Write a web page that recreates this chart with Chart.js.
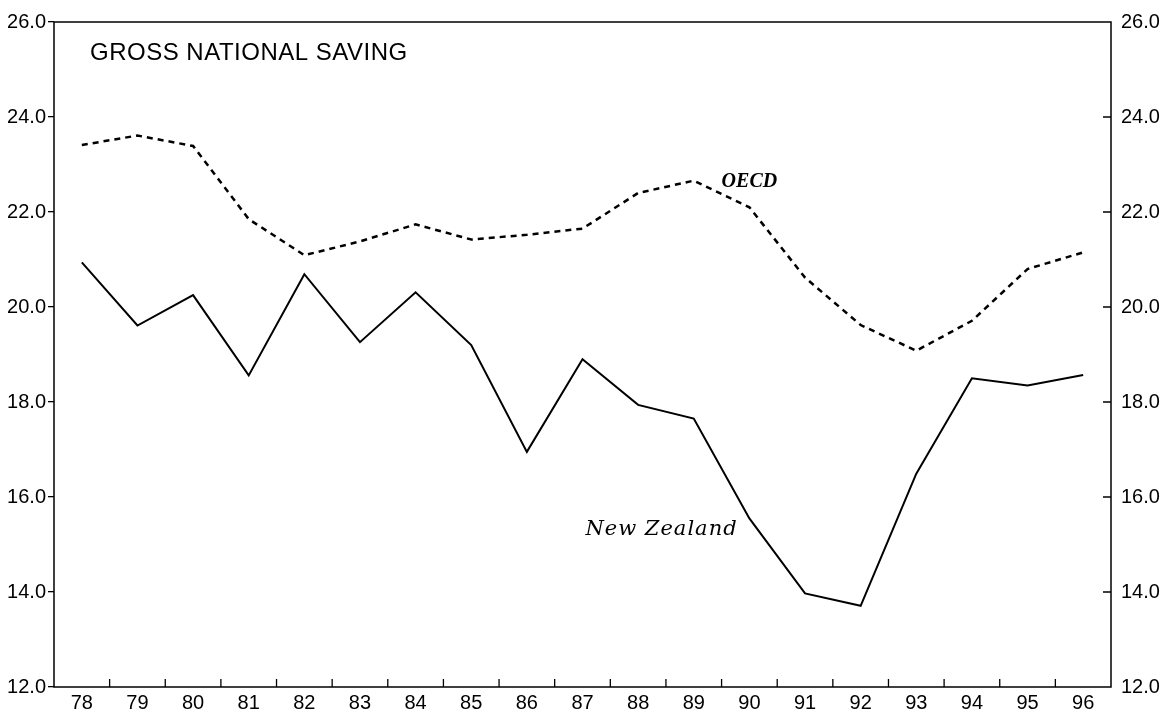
<!DOCTYPE html>
<html>
<head>
<meta charset="utf-8">
<script src="https://cdn.jsdelivr.net/npm/chart.js@4/dist/chart.umd.min.js"></script>
<style>
    html, body { margin: 0; padding: 0; background: #fff; }
    #chart { display: block; }
</style>
</head>
<body>
<canvas id="chart" width="1167" height="721"></canvas>
<script>
// years on the x axis
const years = ['78', '79', '80', '81', '82', '83', '84', '85', '86', '87',
               '88', '89', '90', '91', '92', '93', '94', '95', '96']

// gross national saving, per cent of GDP
const nzSaving = [20.94, 19.61, 20.25, 18.56, 20.69, 19.26, 20.31, 19.20, 16.95, 18.90,
                  17.94, 17.65, 15.55, 13.97, 13.71, 16.49, 18.50, 18.35, 18.57]
const oecdSaving = [23.41, 23.61, 23.39, 21.85, 21.09, 21.38, 21.74, 21.42, 21.52, 21.65,
                    22.40, 22.66, 22.10, 20.62, 19.62, 19.08, 19.71, 20.80, 21.15]

const yMin = 12
const yMax = 26
const yStep = 2

const labelFont = {family: 'Liberation Sans', size: 20}

// frame, inward tick marks, title and the two line labels
const decorations = {
    id: 'decorations',
    afterDraw(chart){
        let ctx = chart.ctx
        let area = chart.chartArea
        let x = chart.scales.x
        let y2 = chart.scales.y2
        let y = chart.scales.y

        ctx.save()
        ctx.strokeStyle = '#000'
        ctx.lineWidth = 1.5
        ctx.strokeRect(area.left, area.top, area.right - area.left, area.bottom - area.top)

        // ticks between the years, pointing up
        ctx.lineWidth = 1.3
        ctx.beginPath()
        for(let i = 1; i < years.length; i++){
            let px = (x.getPixelForTick(i - 1) + x.getPixelForTick(i)) / 2
            ctx.moveTo(px, area.bottom)
            ctx.lineTo(px, area.bottom - 8)
        }
        // right axis ticks, pointing in
        for(let v = yMin + yStep; v < yMax; v += yStep){
            let py = y2.getPixelForValue(v)
            ctx.moveTo(area.right, py)
            ctx.lineTo(area.right - 8, py)
        }
        ctx.stroke()

        ctx.fillStyle = '#000'
        ctx.textBaseline = 'middle'
        ctx.textAlign = 'left'
        ctx.font = '24px "Liberation Sans"'
        ctx.letterSpacing = '0.5px'
        ctx.fillText('GROSS NATIONAL SAVING', area.left + 36, area.top + 31)
        ctx.letterSpacing = '0px'

        ctx.textAlign = 'center'
        ctx.font = 'italic bold 20px "Liberation Serif"'
        ctx.fillText('OECD', x.getPixelForValue(12), y.getPixelForValue(22.63))
        ctx.font = 'italic 21px "DejaVu Serif"'
        ctx.letterSpacing = '1px'
        ctx.fillText('New Zealand', x.getPixelForValue(10.42), y.getPixelForValue(15.31))
        ctx.restore()
    }
}

let ctx = document.getElementById('chart').getContext('2d')
let chart = new Chart(ctx, {
    type: 'line',
    data: {
        labels: years,
        datasets: [{
            label: 'New Zealand',
            data: nzSaving,
            borderColor: '#000',
            borderWidth: 2,
            yAxisID: 'y'
        }, {
            label: 'OECD',
            data: oecdSaving,
            borderColor: '#000',
            borderWidth: 2.5,
            borderDash: [6, 5],
            yAxisID: 'y'
        }]
    },
    plugins: [decorations],
    options: {
        responsive: false,
        animation: false,
        layout: {padding: {top: 10, left: 0, right: 0, bottom: 0}},
        elements: {
            point: {radius: 0},
            line: {tension: 0, fill: false}
        },
        plugins: {
            legend: {display: false},
            tooltip: {enabled: false}
        },
        scales: {
            x: {
                offset: true,
                grid: {display: false, drawTicks: false, offset: true},
                border: {display: false},
                ticks: {color: '#000', font: labelFont, padding: 4, maxRotation: 0, autoSkip: false},
                afterFit(s){ s.height = 34 }
            },
            y: {
                position: 'left',
                min: yMin,
                max: yMax,
                border: {display: false},
                grid: {drawOnChartArea: false, drawTicks: true, tickLength: 6, color: '#000', lineWidth: 1.3},
                ticks: {stepSize: yStep, color: '#000', font: labelFont, padding: 2,
                        callback: v => v.toFixed(1)},
                afterFit(s){ s.width = 54 }
            },
            y2: {
                position: 'right',
                min: yMin,
                max: yMax,
                border: {display: false},
                grid: {display: false, drawTicks: false},
                ticks: {stepSize: yStep, color: '#000', font: labelFont, padding: 10,
                        callback: v => v.toFixed(1)},
                afterFit(s){ s.width = 56 }
            }
        }
    }
});
</script>
</body>
</html>
